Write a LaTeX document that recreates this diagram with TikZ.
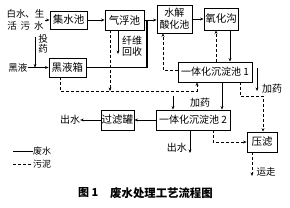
\documentclass[tikz,border=0pt]{standalone}
\usepackage{fontspec}
\setmainfont{Noto Sans CJK SC}
\usetikzlibrary{arrows.meta,calc}
\begin{document}
\begin{tikzpicture}[x=1pt,y=-1pt,
  box/.style={draw,line width=0.8pt,inner sep=0pt,font=\fontsize{10.5}{12}\selectfont,align=center},
  wline/.style={line width=0.7pt},
  sline/.style={line width=0.7pt,dash pattern=on 3pt off 2pt},
  tip/.style={-{Stealth[length=3.5pt,width=2.8pt]}},
  lbl/.style={font=\fontsize{9.5}{10.5}\selectfont,inner sep=0pt,align=center}]
\fill[white] (0,0) rectangle (290,208);
\useasboundingbox (0,0) rectangle (290,208);

% boxes
\node[box,minimum width=37pt,minimum height=18pt] (jsc) at (68.5,20) {集水池};
\node[box,minimum width=39pt,minimum height=20pt] (qfc) at (124.5,20) {气浮池};
\node[box,minimum width=35pt,minimum height=28pt,font=\fontsize{10}{12}\selectfont] (sj) at (174.5,19) {水解\\酸化池};
\node[box,minimum width=34pt,minimum height=22pt] (yhg) at (221,19) {氧化沟};
\node[box,minimum width=37pt,minimum height=19pt] (hyx) at (67.5,67.5) {黑液箱};
\node[box,minimum width=74pt,minimum height=20pt,font=\fontsize{10}{12}\selectfont] (c1) at (215,72) {一体化沉淀池 1};
\node[box,minimum width=74pt,minimum height=20pt,font=\fontsize{10}{12}\selectfont] (c2) at (193,120) {一体化沉淀池 2};
\node[box,minimum width=33pt,minimum height=20pt] (glg) at (117.5,120) {过滤罐};
\node[box,minimum width=30pt,minimum height=20pt] (yl) at (262,142) {压滤};

% labels
\node[lbl] (t1) at (25.5,14) {白水、生};
\node[lbl] (t2) at (25.5,26) {活\hspace{4pt}污\hspace{4pt}水};
\node[lbl] (hy) at (18,67.5) {黑液};
\node[lbl,font=\fontsize{9.5}{10}\selectfont] (ty) at (43,44) {投\\药};
\node[lbl,font=\fontsize{10}{11.5}\selectfont] (xw) at (132,46) {纤维\\回收};
\node[lbl,font=\fontsize{10}{11}\selectfont] (jy1) at (272,89) {加药};
\node[lbl,font=\fontsize{10}{11}\selectfont] (jy2) at (200,103) {加药};
\node[lbl,font=\fontsize{10}{11}\selectfont] (cs1) at (70,120) {出水};
\node[lbl,font=\fontsize{10}{11}\selectfont] (cs2) at (177,148) {出水};
\node[lbl] (yz) at (266,172) {运走};

% helper coordinates
\coordinate (tytop) at (35,37);
\coordinate (j147) at (147,67.5);
\coordinate (x110) at (110,0);
\coordinate (x118) at (118,54);
\coordinate (x60) at (60,91);
\coordinate (x197) at (197,91);
\coordinate (x216) at (216,0);
\coordinate (x230) at (230,0);
\coordinate (x163) at (163,70);
\coordinate (x222) at (222,0);
\coordinate (x240) at (240,96);
\coordinate (x263) at (263,96);
\coordinate (jtop) at (257,68);
\coordinate (jbot) at (257,91);
\coordinate (x173) at (173,96);
\coordinate (x190) at (190,153);
\coordinate (x213) at (213,142);
\coordinate (x252) at (252,176);

% wastewater (solid)
\draw[wline,tip] (t1.east |- jsc.west) -- (jsc.west);
\draw[wline,tip] (jsc.east) -- (qfc.west);
\draw[wline,tip] (qfc.east) -- (sj.west |- qfc.east);
\draw[wline,tip] (sj.east |- yhg.west) -- (yhg.west);
\draw[wline,tip] (hy.east) -- (hyx.west);
\draw[wline,tip] (tytop) -- (tytop |- hyx.west);
\draw[line width=1.1pt] (hyx.east) -- (j147) -- (j147 |- qfc.east);
\draw[wline,tip] (x118 |- qfc.south) -- (x118);
\draw[wline,tip] (x230 |- yhg.south) -- (x230 |- c1.north);
\draw[wline,tip] (jtop) -- (jbot);
\draw[wline,tip] (x222 |- c1.south) -- (x222 |- c2.north);
\draw[wline,tip] (x173) -- (x173 |- c2.north);
\draw[wline,tip] (c2.west) -- (glg.east);
\draw[wline,tip] (glg.west) -- (cs1.east);
\draw[wline,tip] (x190 |- c2.south) -- (x190);

% sludge (dashed)
\draw[sline,tip] (x216 |- c1.north) -- (x216 |- yhg.south);
\draw[sline,tip] (c1.west |- x163) -- (x163) -- (x163 |- sj.south);
\draw[sline,tip] (x110 |- qfc.south) -- (x110 |- x60);
\draw[sline,tip] (x60 |- hyx.south) -- (x60) -- (x197) -- (x197 |- c1.south);
\draw[sline,tip] (x240 |- c1.south) -- (x240) -- (x263) -- (x263 |- yl.north);
\draw[sline,tip] (x213 |- c2.south) -- (x213) -- (yl.west);
\draw[sline,tip] (x252 |- yl.south) -- (x252);

% legend
\coordinate (lg1) at (13,151);
\coordinate (lg2) at (13,164);
\node[lbl,font=\fontsize{9}{10}\selectfont,anchor=west] (lw) at (33,151) {废水};
\node[lbl,font=\fontsize{9}{10}\selectfont,anchor=west] (ls) at (33,164) {污泥};
\draw[line width=0.6pt] (lg1) -- (lw.west);
\draw[line width=0.6pt,dash pattern=on 3pt off 2pt] (lg2) -- (ls.west);

% caption
\node[anchor=west,inner sep=0pt,font=\fontsize{11}{13}\selectfont\bfseries] (cap1) at (78,193) {图 1};
\node[anchor=west,inner sep=0pt,font=\fontsize{11.4}{13}\selectfont\bfseries] (cap2) at (110,193) {废水处理工艺流程图};
\end{tikzpicture}
\end{document}
